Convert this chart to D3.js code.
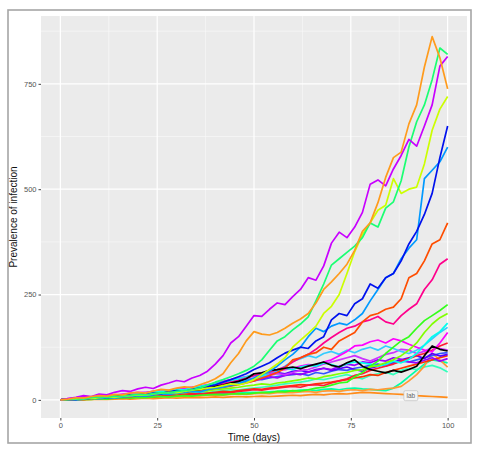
<!DOCTYPE html>
<html>
<head>
<meta charset="utf-8">
<script src="https://cdn.jsdelivr.net/npm/d3@7/dist/d3.min.js"></script>
<style>
  body { margin: 0; background: #fff; }
  text { font-family: "Liberation Sans", Arial, sans-serif; }
</style>
</head>
<body>
<div id="chart"></div>
<script>
var width = 479;
var height = 450;

var panel = { left: 41, top: 16, right: 467, bottom: 418 };

var days = [0, 2, 4, 6, 8, 10, 12, 14, 16, 18,
  20, 22, 24, 26, 28, 30, 32, 34, 36, 38,
  40, 42, 44, 46, 48, 50, 52, 54, 56, 58,
  60, 62, 64, 66, 68, 70, 72, 74, 76, 78,
  80, 82, 84, 86, 88, 90, 92, 94, 96, 98,
  100];

var xTicks = [0, 25, 50, 75, 100];
var yTicks = [0, 250, 500, 750];

// one stochastic run per array, prevalence at each of the days above
var runLowOrange = [0, 0, 1, 0, 1, 2, 1, 2, 3, 2,
  3, 4, 3, 4, 5, 4, 5, 6, 5, 6,
  7, 6, 7, 8, 7, 8, 9, 8, 9, 10,
  11, 10, 12, 13, 12, 14, 15, 14, 16, 18,
  17, 16, 15, 14, 13, 12, 10, 9, 8, 7,
  6];
var runTeal = [0, 1, 2, 3, 2, 4, 5, 4, 6, 7,
  6, 8, 9, 8, 10, 11, 10, 12, 13, 12,
  14, 15, 14, 16, 17, 18, 17, 19, 20, 22,
  21, 23, 24, 22, 25, 26, 24, 27, 28, 26,
  25, 23, 22, 28, 40, 55, 70, 85, 95, 92,
  88];
var runMint = [0, 1, 2, 1, 3, 4, 3, 5, 6, 5,
  7, 8, 10, 9, 12, 14, 13, 16, 18, 17,
  20, 22, 24, 23, 26, 28, 30, 32, 35, 38,
  40, 42, 45, 50, 48, 52, 56, 60, 55, 50,
  58, 62, 66, 60, 70, 75, 72, 78, 82, 76,
  66];
var runOrange2 = [0, 1, 0, 2, 1, 3, 2, 4, 3, 5,
  4, 6, 5, 7, 8, 7, 9, 10, 9, 11,
  12, 11, 13, 14, 13, 15, 16, 15, 17, 18,
  17, 19, 20, 18, 21, 22, 20, 23, 24, 22,
  25, 24, 26, 28, 32, 45, 60, 80, 110, 95,
  78];
var runRedOrange = [0, 1, 2, 3, 2, 4, 5, 6, 5, 7,
  8, 9, 8, 10, 12, 11, 13, 15, 14, 16,
  18, 20, 19, 22, 24, 26, 25, 28, 30, 32,
  34, 36, 35, 38, 40, 42, 45, 48, 52, 55,
  60, 58, 65, 70, 75, 80, 85, 90, 95, 100,
  105];
var runRoyal = [0, 2, 3, 2, 5, 6, 8, 7, 10, 12,
  14, 13, 16, 18, 20, 22, 25, 24, 28, 30,
  33, 36, 40, 42, 45, 50, 48, 52, 55, 58,
  60, 62, 58, 65, 62, 68, 72, 70, 75, 78,
  82, 85, 80, 88, 92, 90, 95, 100, 105, 110,
  112];
var runBlueViolet = [0, 2, 3, 5, 4, 7, 9, 8, 11, 13,
  12, 15, 17, 19, 18, 21, 24, 26, 28, 30,
  34, 38, 42, 48, 52, 58, 55, 60, 65, 62,
  68, 70, 66, 72, 75, 70, 74, 78, 72, 68,
  75, 80, 85, 90, 95, 100, 105, 98, 110, 104,
  108];
var runViolet = [0, 2, 1, 3, 4, 6, 5, 8, 7, 10,
  12, 11, 14, 16, 15, 18, 20, 22, 21, 25,
  28, 30, 34, 38, 42, 45, 50, 55, 52, 58,
  62, 60, 66, 70, 75, 72, 80, 85, 82, 90,
  88, 95, 92, 100, 96, 90, 88, 94, 100, 92,
  98];
var runPurple2 = [0, 2, 4, 6, 5, 8, 10, 12, 11, 14,
  16, 18, 20, 19, 22, 25, 28, 30, 29, 33,
  36, 40, 38, 44, 48, 52, 55, 58, 62, 60,
  65, 70, 72, 78, 85, 90, 95, 100, 105, 98,
  92, 100, 108, 112, 120, 118, 110, 115, 125, 122,
  118];
var runRed = [0, 1, 2, 1, 3, 4, 3, 5, 6, 5,
  7, 8, 7, 9, 10, 12, 11, 13, 15, 14,
  16, 18, 17, 20, 22, 24, 23, 26, 28, 30,
  32, 30, 35, 36, 34, 40, 45, 50, 58, 62,
  70, 75, 80, 85, 92, 98, 105, 110, 118, 128,
  135];
var runSky = [0, 1, 3, 2, 4, 6, 5, 7, 9, 8,
  10, 12, 14, 13, 16, 18, 20, 22, 24, 26,
  28, 32, 35, 40, 45, 50, 55, 62, 70, 80,
  92, 98, 105, 100, 110, 115, 108, 118, 112, 120,
  125, 118, 128, 122, 115, 110, 118, 130, 145, 160,
  172];
var runMagenta = [0, 3, 5, 8, 6, 10, 12, 11, 14, 16,
  18, 17, 20, 24, 22, 26, 28, 30, 33, 36,
  40, 44, 48, 52, 55, 60, 64, 62, 68, 72,
  75, 80, 84, 82, 90, 95, 105, 115, 128, 130,
  138, 142, 135, 145, 140, 132, 125, 118, 114, 135,
  160];
var runCyan = [0, 2, 4, 3, 6, 8, 7, 10, 12, 14,
  13, 16, 18, 20, 22, 25, 24, 28, 32, 35,
  38, 42, 45, 50, 55, 60, 58, 65, 70, 75,
  72, 78, 82, 80, 88, 84, 78, 86, 90, 88,
  85, 80, 84, 92, 88, 96, 110, 130, 150, 162,
  182];
var runGreen = [0, 1, 0, 2, 1, 3, 2, 4, 5, 4,
  6, 5, 7, 8, 7, 9, 10, 9, 11, 12,
  13, 12, 14, 15, 14, 16, 18, 17, 20, 19,
  22, 21, 24, 28, 30, 35, 40, 42, 55, 65,
  80, 92, 110, 125, 140, 150, 170, 188, 200, 212,
  226];
var runLime = [0, 1, 2, 4, 3, 5, 6, 8, 7, 9,
  10, 12, 11, 14, 16, 15, 18, 20, 22, 21,
  24, 26, 28, 30, 33, 35, 38, 36, 40, 42,
  45, 48, 52, 50, 55, 58, 62, 65, 70, 72,
  78, 82, 88, 95, 105, 118, 135, 160, 180, 195,
  205];
var runPink = [0, 2, 1, 3, 5, 4, 7, 6, 9, 11,
  10, 13, 15, 14, 18, 20, 19, 23, 26, 30,
  34, 38, 42, 46, 52, 58, 62, 66, 72, 78,
  90, 100, 108, 120, 135, 148, 160, 170, 175, 185,
  190, 198, 185, 180, 200, 215, 228, 262, 285, 322,
  335];
var runOrangeRed = [0, 1, 2, 1, 3, 5, 4, 6, 8, 7,
  10, 12, 11, 14, 16, 18, 17, 20, 22, 25,
  28, 30, 33, 36, 40, 45, 52, 58, 65, 75,
  95, 100, 108, 112, 125, 120, 140, 150, 160, 185,
  200, 205, 215, 220, 240, 290, 300, 330, 370, 380,
  420];
var runBlack = [0, 1, 3, 2, 4, 6, 5, 8, 10, 9,
  12, 14, 13, 16, 18, 20, 19, 22, 25, 28,
  32, 35, 40, 44, 50, 62, 64, 70, 72, 75,
  78, 74, 80, 85, 90, 82, 78, 88, 95, 80,
  72, 68, 64, 70, 66, 72, 80, 105, 128, 120,
  116];
var runAzure = [0, 1, 0, 2, 4, 3, 5, 4, 7, 8,
  10, 9, 12, 14, 13, 16, 18, 20, 19, 24,
  28, 30, 35, 38, 45, 52, 60, 68, 80, 95,
  108, 125, 150, 170, 162, 175, 182, 178, 190, 205,
  235, 262, 290, 300, 335, 360, 380, 525, 545, 565,
  600];
var runBlue = [0, 2, 1, 4, 3, 6, 8, 7, 10, 12,
  11, 14, 16, 15, 19, 22, 20, 25, 28, 32,
  36, 42, 48, 55, 62, 72, 80, 88, 100, 111,
  118, 125, 122, 140, 150, 190, 205, 200, 228, 240,
  275, 265, 290, 300, 330, 370, 400, 440, 490, 575,
  650];
var runYellow = [0, 1, 2, 4, 3, 5, 7, 6, 9, 10,
  12, 11, 14, 16, 18, 17, 20, 23, 25, 28,
  30, 34, 38, 36, 40, 48, 60, 72, 85, 100,
  125, 142, 158, 175, 205, 222, 250, 300, 352, 392,
  420, 450, 462, 525, 490, 500, 505, 560, 640, 690,
  720];
var runSpring = [0, 1, 3, 2, 5, 7, 6, 9, 8, 11,
  13, 12, 15, 17, 16, 20, 22, 24, 28, 35,
  42, 48, 55, 62, 70, 80, 95, 118, 140, 150,
  166, 180, 197, 235, 275, 320, 335, 350, 365, 385,
  420, 410, 455, 470, 520, 600, 660, 700, 760, 835,
  820];
var runPurple = [0, 3, 6, 10, 8, 14, 12, 18, 22, 20,
  26, 30, 27, 35, 40, 46, 43, 52, 58, 68,
  85, 105, 135, 150, 175, 200, 198, 215, 230, 226,
  245, 262, 290, 284, 318, 372, 398, 385, 410, 445,
  512, 522, 508, 548, 580, 618, 602, 650, 700, 792,
  815];
var runOrange = [0, 2, 5, 4, 8, 10, 9, 13, 12, 16,
  18, 16, 21, 25, 23, 28, 31, 29, 36, 42,
  50, 62, 88, 110, 140, 162, 156, 154, 160, 170,
  182, 192, 205, 230, 262, 280, 300, 322, 355, 400,
  420, 468, 528, 575, 588, 655, 700, 790, 862, 812,
  738];

var runs = [
  { color: '#ff8c1a', values: runLowOrange },
  { color: '#00ffa6', values: runTeal },
  { color: '#33ffbb', values: runMint },
  { color: '#ff9933', values: runOrange2 },
  { color: '#ff3300', values: runRedOrange },
  { color: '#3355ff', values: runRoyal },
  { color: '#5500ff', values: runBlueViolet },
  { color: '#9900ff', values: runViolet },
  { color: '#cc33ff', values: runPurple2 },
  { color: '#ff1a33', values: runRed },
  { color: '#33ccff', values: runSky },
  { color: '#ff00ff', values: runMagenta },
  { color: '#00ffee', values: runCyan },
  { color: '#33ff1a', values: runGreen },
  { color: '#80ff00', values: runLime },
  { color: '#ff008c', values: runPink },
  { color: '#ff4d00', values: runOrangeRed },
  { color: '#000000', values: runBlack },
  { color: '#0099ff', values: runAzure },
  { color: '#0011ee', values: runBlue },
  { color: '#ccff00', values: runYellow },
  { color: '#1aff72', values: runSpring },
  { color: '#c800ff', values: runPurple },
  { color: '#ff9b1c', values: runOrange }
];

var labelText = 'lab';
var labelDay = 90.5;
var labelValue = 10;

document.addEventListener('DOMContentLoaded', init, false);

function init() {

  var svg = d3.select('#chart')
    .append('svg')
      .attr('width', width)
      .attr('height', height);

  svg.append('rect')
    .attr('x', 8)
    .attr('y', 10)
    .attr('width', 463)
    .attr('height', 433)
    .attr('fill', '#fff')
    .attr('stroke', '#a6a6a6')
    .attr('stroke-width', 1.6);

  var scale = drawAxis(svg);
  drawLines(svg, scale);
  drawLabel(svg, scale);
}

function drawAxis(svg) {

  var xScale = d3.scaleLinear()
    .domain([-5, 105])
    .range([panel.left, panel.right]);

  var yScale = d3.scaleLinear()
    .domain([-43, 911])
    .range([panel.bottom, panel.top]);

  svg.append('rect')
    .attr('x', panel.left)
    .attr('y', panel.top)
    .attr('width', panel.right - panel.left)
    .attr('height', panel.bottom - panel.top)
    .attr('fill', '#ebebeb');

  var grid = svg.append('g');

  // minor grid halfway between the major ticks
  var xMinor = [12.5, 37.5, 62.5, 87.5];
  var yMinor = [125, 375, 625, 875];

  grid.selectAll('.xminor')
      .data(xMinor)
      .enter()
    .append('line')
      .attr('x1', function (d) { return xScale(d); })
      .attr('x2', function (d) { return xScale(d); })
      .attr('y1', panel.top)
      .attr('y2', panel.bottom)
      .attr('stroke', '#fafafa')
      .attr('stroke-width', 0.6);

  grid.selectAll('.yminor')
      .data(yMinor)
      .enter()
    .append('line')
      .attr('y1', function (d) { return yScale(d); })
      .attr('y2', function (d) { return yScale(d); })
      .attr('x1', panel.left)
      .attr('x2', panel.right)
      .attr('stroke', '#fafafa')
      .attr('stroke-width', 0.6);

  grid.selectAll('.xmajor')
      .data(xTicks)
      .enter()
    .append('line')
      .attr('x1', function (d) { return xScale(d); })
      .attr('x2', function (d) { return xScale(d); })
      .attr('y1', panel.top)
      .attr('y2', panel.bottom)
      .attr('stroke', '#fff')
      .attr('stroke-width', 1.2);

  grid.selectAll('.ymajor')
      .data(yTicks)
      .enter()
    .append('line')
      .attr('y1', function (d) { return yScale(d); })
      .attr('y2', function (d) { return yScale(d); })
      .attr('x1', panel.left)
      .attr('x2', panel.right)
      .attr('stroke', '#fff')
      .attr('stroke-width', 1.2);

  var xAxis = svg.append('g')
      .attr('transform', 'translate(0,' + panel.bottom + ')')
      .call(d3.axisBottom(xScale).tickValues(xTicks).tickSize(2.5).tickPadding(2));

  var yAxis = svg.append('g')
      .attr('transform', 'translate(' + panel.left + ',0)')
      .call(d3.axisLeft(yScale).tickValues(yTicks).tickSize(2.5).tickPadding(2));

  [xAxis, yAxis].forEach(function (axis) {
    axis.select('.domain').remove();
    axis.selectAll('line').attr('stroke', '#444');
    axis.selectAll('text')
      .attr('fill', '#555')
      .style('font-size', '7.5px')
      .style('font-family', '"Liberation Sans", Arial, sans-serif');
  });

  svg.append('text')
    .attr('x', (panel.left + panel.right) / 2)
    .attr('y', 441)
    .attr('fill', '#111')
    .style('font-size', '10px')
    .style('text-anchor', 'middle')
    .text('Time (days)');

  svg.append('text')
    .attr('transform', 'translate(17,' + (panel.top + panel.bottom) / 2 + ') rotate(-90)')
    .attr('fill', '#111')
    .style('font-size', '10px')
    .style('text-anchor', 'middle')
    .text('Prevalence of infection');

  return {
    x: xScale,
    y: yScale
  };
}

function drawLines(svg, scale) {

  var line = d3.line()
    .x(function (d, i) { return scale.x(days[i]); })
    .y(function (d) { return scale.y(d); });

  svg.append('g')
    .selectAll('path')
      .data(runs)
      .enter()
    .append('path')
      .attr('fill', 'none')
      .attr('stroke', function (d) { return d.color; })
      .attr('stroke-width', 1.7)
      .attr('stroke-linejoin', 'round')
      .attr('d', function (d) { return line(d.values); });
}

function drawLabel(svg, scale) {

  var g = svg.append('g')
    .attr('transform', 'translate(' + scale.x(labelDay) + ',' + scale.y(labelValue) + ')');

  g.append('rect')
    .attr('x', -7)
    .attr('y', -5)
    .attr('width', 14)
    .attr('height', 10)
    .attr('rx', 1.5)
    .attr('fill', '#f4f4f4')
    .attr('stroke', '#bbb')
    .attr('stroke-width', 0.6);

  g.append('text')
    .attr('y', 2.3)
    .attr('fill', '#666')
    .style('font-size', '6.5px')
    .style('text-anchor', 'middle')
    .text(labelText);
}
</script>
</body>
</html>
